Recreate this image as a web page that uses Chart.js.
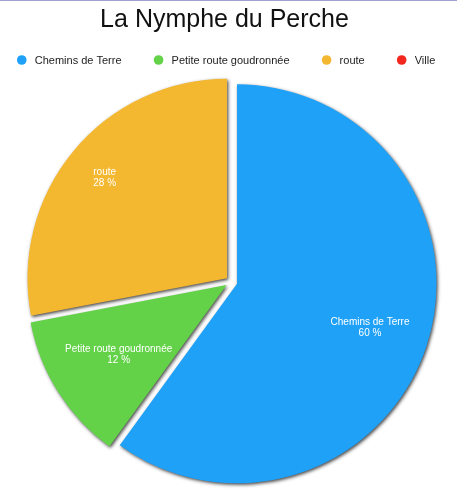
<!DOCTYPE html>
<html>
<head>
<meta charset="utf-8">
<script src="https://cdn.jsdelivr.net/npm/chart.js@4.4.0/dist/chart.umd.min.js"></script>
<style>
html,body{margin:0;padding:0;background:#fff;}
body{border-top:1px solid #9ea3cf;box-sizing:border-box;}
#wrap{position:relative;width:457px;height:499px;}
</style>
</head>
<body>
<div id="wrap"><canvas id="c"></canvas></div>
<script>
const chartTitle = "La Nymphe du Perche";
const categories = ["Chemins de Terre", "Petite route goudronnée", "route", "Ville"];
const percentages = [60, 12, 28, 0];
const sliceColors = ["#1fa1f8", "#63d249", "#f4b730", "#f2281f"];
const labelRadiusFactors = [0.73, 0.67, 0.825, 0.75];

const FONT = '"Liberation Sans", Arial, sans-serif';
const EXPLODE = 5.8;

// Draw each arc element (library element) shifted outwards along its bisector, with a drop shadow
const explodedPiePlugin = {
  id: 'explodedPie',
  beforeDatasetDraw(chart, args) {
    const ctx = chart.ctx;
    const meta = args.meta;
    ctx.save();
    ctx.shadowColor = 'rgba(0,0,0,0.72)';
    ctx.shadowBlur = 3.5;
    ctx.shadowOffsetX = 1.2;
    ctx.shadowOffsetY = 1.5;
    meta.data.forEach((arc) => {
      if (!arc.circumference) return;
      const mid = (arc.startAngle + arc.endAngle) / 2;
      ctx.save();
      ctx.translate(Math.cos(mid) * EXPLODE, Math.sin(mid) * EXPLODE);
      arc.draw(ctx);
      ctx.restore();
    });
    ctx.restore();
    return false;
  }
};

const sliceLabelPlugin = {
  id: 'sliceLabels',
  afterDraw(chart) {
    const ctx = chart.ctx;
    const meta = chart.getDatasetMeta(0);
    const ds = chart.data.datasets[0];
    ctx.save();
    ctx.fillStyle = '#ffffff';
    ctx.font = '10px ' + FONT;
    ctx.textAlign = 'center';
    ctx.textBaseline = 'middle';
    meta.data.forEach((arc, i) => {
      const v = ds.data[i];
      if (!v) return;
      const mid = (arc.startAngle + arc.endAngle) / 2;
      const r = arc.outerRadius * labelRadiusFactors[i];
      const x = arc.x + Math.cos(mid) * r;
      const y = arc.y + Math.sin(mid) * r;
      ctx.fillText(chart.data.labels[i], x, y - 4.5);
      ctx.fillText(v + ' %', x, y + 6.5);
    });
    ctx.restore();
  }
};

// Title and legend row drawn from the chart's labels and dataset colours
const headerPlugin = {
  id: 'header',
  afterDraw(chart) {
    const ctx = chart.ctx;
    ctx.save();
    ctx.fillStyle = '#111111';
    ctx.font = '25px ' + FONT;
    ctx.textAlign = 'center';
    ctx.textBaseline = 'alphabetic';
    ctx.fillText(chartTitle, 224.5, 25.8);

    const labels = chart.data.labels;
    const colors = chart.data.datasets[0].backgroundColor;
    const dotToText = 13, textToDot = 37, dotR = 4.8, yc = 59;
    ctx.font = '11px ' + FONT;
    const widths = labels.map(t => ctx.measureText(t).width);
    const total = widths.reduce((a, b) => a + b, 0) + labels.length * dotToText + (labels.length - 1) * textToDot;
    let x = chart.width / 2 - total / 2;
    ctx.textBaseline = 'middle';
    ctx.textAlign = 'left';
    labels.forEach((t, i) => {
      ctx.fillStyle = colors[i];
      ctx.beginPath();
      ctx.arc(x, yc, dotR, 0, Math.PI * 2);
      ctx.fill();
      ctx.fillStyle = '#222222';
      ctx.fillText(t, x + dotToText, yc + 0.5);
      x += dotToText + widths[i] + textToDot;
    });
    ctx.restore();
  }
};

new Chart(document.getElementById('c'), {
  type: 'pie',
  data: {
    labels: categories,
    datasets: [{
      data: percentages,
      backgroundColor: sliceColors,
      borderWidth: 0,
      radius: 199.5
    }]
  },
  options: {
    responsive: true,
    maintainAspectRatio: false,
    animation: false,
    events: [],
    layout: { padding: { left: 6, right: 0, top: 72, bottom: 9 } },
    plugins: {
      title: { display: false },
      legend: { display: false },
      tooltip: { enabled: false }
    }
  },
  plugins: [explodedPiePlugin, sliceLabelPlugin, headerPlugin]
});
</script>
</body>
</html>
